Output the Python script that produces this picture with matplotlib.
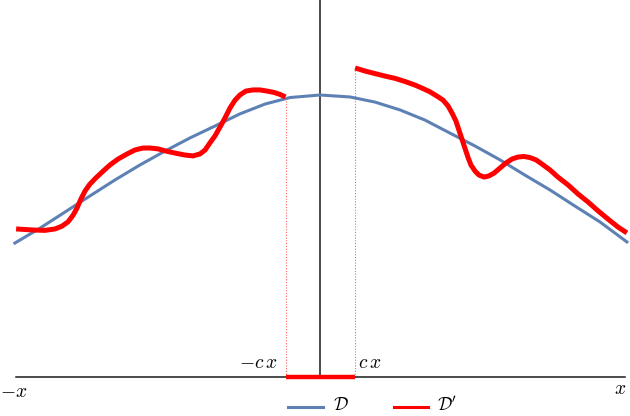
import matplotlib
matplotlib.use("Agg")
import matplotlib.pyplot as plt
from matplotlib.lines import Line2D

plt.rcParams['mathtext.fontset'] = 'cm'

# Blue curve D
blue_x = [-1.017, -0.933, -0.85, -0.767, -0.683, -0.6, -0.517, -0.433, -0.35, -0.267,
          -0.183, -0.1, 0.0, 0.1, 0.183, 0.267, 0.35, 0.433, 0.517, 0.6,
          0.683, 0.767, 0.85, 0.933, 1.023]
blue_y = [0.475, 0.528, 0.585, 0.642, 0.699, 0.752, 0.801, 0.848, 0.890, 0.933,
          0.968, 0.991, 1.0, 0.993, 0.975, 0.947, 0.911, 0.865, 0.819, 0.770,
          0.716, 0.663, 0.606, 0.550, 0.479]

# Red curve D' (left and right pieces)
red_left_x = [-1.013, -0.983, -0.95, -0.917, -0.883, -0.86, -0.84, -0.823, -0.81, -0.797,
              -0.783, -0.767, -0.747, -0.723, -0.7, -0.673, -0.643, -0.617, -0.59, -0.567,
              -0.54, -0.513, -0.483, -0.45, -0.423, -0.4, -0.383, -0.367, -0.35, -0.333,
              -0.317, -0.3, -0.283, -0.267, -0.247, -0.223, -0.2, -0.177, -0.153, -0.133,
              -0.115]
red_left_y = [0.525, 0.523, 0.521, 0.520, 0.525, 0.535, 0.550, 0.574, 0.599, 0.631,
              0.660, 0.684, 0.706, 0.730, 0.752, 0.773, 0.791, 0.805, 0.812, 0.812,
              0.809, 0.801, 0.794, 0.787, 0.784, 0.791, 0.805, 0.830, 0.855, 0.887,
              0.918, 0.954, 0.982, 1.0, 1.014, 1.018, 1.018, 1.014, 1.009, 1.002,
              0.993]
red_right_x = [0.117, 0.15, 0.183, 0.217, 0.25, 0.283, 0.317, 0.343, 0.367, 0.39,
               0.41, 0.427, 0.44, 0.453, 0.463, 0.473, 0.483, 0.493, 0.503, 0.517,
               0.53, 0.547, 0.563, 0.58, 0.6, 0.62, 0.64, 0.66, 0.68, 0.7,
               0.72, 0.74, 0.767, 0.793, 0.827, 0.86, 0.893, 0.927, 0.96, 0.993,
               1.023]
red_right_y = [1.096, 1.085, 1.076, 1.067, 1.059, 1.048, 1.035, 1.023, 1.011, 0.996,
               0.982, 0.961, 0.936, 0.908, 0.876, 0.844, 0.812, 0.780, 0.752, 0.730,
               0.716, 0.709, 0.713, 0.723, 0.741, 0.759, 0.773, 0.780, 0.782, 0.778,
               0.770, 0.755, 0.734, 0.709, 0.681, 0.649, 0.621, 0.589, 0.560, 0.532,
               0.511]

c_left = -0.115
c_right = 0.117
axis_left = -1.013
axis_right = 1.017

BLUE = '#5E81B5'
RED = '#FF0000'

fig = plt.figure(figsize=(6.3, 4.16), dpi=100)
ax = fig.add_axes([0, 0, 1, 1])
ax.set_xlim(-320 / 300, 310 / 300)
ax.set_ylim(-39 / 282, 377 / 282)
ax.axis('off')

# axes
ax.plot([axis_left, axis_right], [0, 0], color='#1a1a1a', lw=1.1, zorder=2)
ax.plot([0, 0], [0, 377 / 282], color='#1a1a1a', lw=1.1, zorder=2)

# dotted guides
ax.plot([c_left, c_left], [0, red_left_y[-1]], color=RED, lw=0.8, ls=(0, (1, 1.5)), alpha=0.6, zorder=1)
ax.plot([c_right, c_right], [0, red_right_y[0]], color=RED, lw=0.8, ls=(0, (1, 1.5)), alpha=0.6, zorder=1)

# thick interval
ax.plot([c_left, c_right], [0, 0], color=RED, lw=3.2, solid_capstyle='butt', zorder=3)

ax.plot(blue_x, blue_y, color=BLUE, lw=2.2, zorder=3, solid_joinstyle='round')
ax.plot(red_left_x, red_left_y, color=RED, lw=3.6, zorder=4, solid_joinstyle='round', solid_capstyle='butt')
ax.plot(red_right_x, red_right_y, color=RED, lw=3.6, zorder=4, solid_joinstyle='round', solid_capstyle='butt')

fs = 14
ax.text(-0.14, 0.053, r'$-c\,x$', ha='right', va='center', fontsize=fs)
ax.text(0.127, 0.053, r'$c\,x$', ha='left', va='center', fontsize=fs)
ax.text(-1.022, -0.05, r'$-x$', ha='center', va='center', fontsize=fs)
ax.text(1.0, -0.04, r'$x$', ha='center', va='center', fontsize=fs)

# legend
ly = 1 - 407 / 416
fig.add_artist(Line2D([288 / 630, 323 / 630], [ly, ly], color=BLUE, lw=2.2, transform=fig.transFigure))
fig.text(333 / 630, 1 - 405 / 416, r'$\mathcal{D}$', ha='left', va='center', fontsize=13)
fig.add_artist(Line2D([394 / 630, 428 / 630], [ly, ly], color=RED, lw=2.2, transform=fig.transFigure))
fig.text(437 / 630, 1 - 405 / 416, r"$\mathcal{D}'$", ha='left', va='center', fontsize=13)

fig.savefig('out.png', dpi=100)
